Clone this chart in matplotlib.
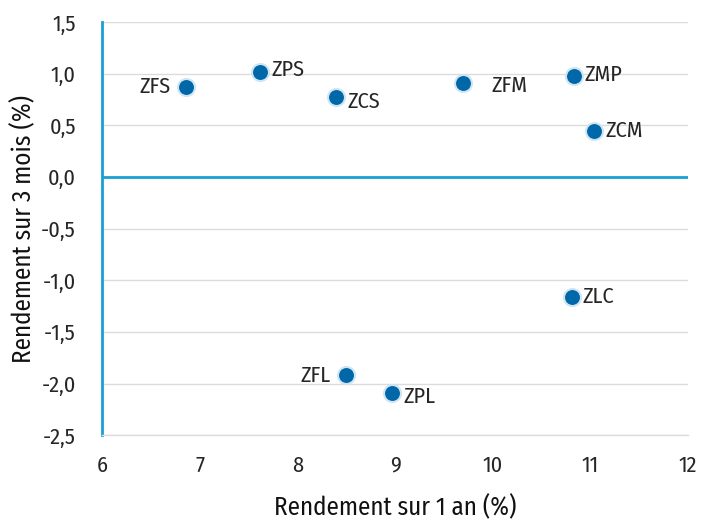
import matplotlib.pyplot as plt
from matplotlib.ticker import FuncFormatter, MultipleLocator

# Données
fonds = ["ZFS", "ZPS", "ZCS", "ZFM", "ZMP", "ZCM", "ZLC", "ZFL", "ZPL"]
rend_1an = [6.86, 7.62, 8.40, 9.70, 10.83, 11.04, 10.81, 8.50, 8.97]
rend_3mois = [0.87, 1.02, 0.77, 0.91, 0.98, 0.45, -1.16, -1.92, -2.09]

# Décalage des étiquettes (en points) et alignement
offsets = {
    "ZFS": (-11, 0, "right"),
    "ZPS": (8, 1, "left"),
    "ZCS": (8, -3, "left"),
    "ZFM": (20, -2, "left"),
    "ZMP": (8, 1, "left"),
    "ZCM": (8, 0, "left"),
    "ZLC": (8, 0, "left"),
    "ZFL": (-11, 0, "right"),
    "ZPL": (8, -3, "left"),
}

plt.rcParams['font.family'] = ['Fira Sans Condensed', 'DejaVu Sans']

fig, ax = plt.subplots(figsize=(7.01, 5.25), dpi=100)
fig.subplots_adjust(left=0.146, right=0.981, top=0.958, bottom=0.171)

cyan = '#1a9fd3'
texte = '#262626'

ax.set_xlim(6, 12)
ax.set_ylim(-2.5, 1.5)
ax.yaxis.set_major_locator(MultipleLocator(0.5))
ax.xaxis.set_major_locator(MultipleLocator(1))
ax.yaxis.set_major_formatter(FuncFormatter(lambda v, p: f"{v:.1f}".replace('.', ',')))
ax.xaxis.set_major_formatter(FuncFormatter(lambda v, p: f"{v:.0f}"))

ax.grid(axis='y', color='#dcdcdc', linewidth=1.0)
ax.set_axisbelow(True)
for s in ['top', 'right']:
    ax.spines[s].set_visible(False)
ax.spines['bottom'].set_color('#dcdcdc')
ax.spines['bottom'].set_linewidth(1.0)
ax.spines['left'].set_color(cyan)
ax.spines['left'].set_linewidth(2)
ax.axhline(0, color=cyan, linewidth=2, zorder=1)

ax.tick_params(length=0, labelsize=16, colors=texte)
ax.tick_params(axis='y', pad=19)
ax.tick_params(axis='x', pad=14)

ax.scatter(rend_1an, rend_3mois, s=150, color='#0068a8',
           edgecolors='#cfe5f3', linewidths=1.5, zorder=3)

for nom, x, y in zip(fonds, rend_1an, rend_3mois):
    dx, dy, ha = offsets[nom]
    ax.annotate(nom, (x, y), xytext=(dx, dy), textcoords='offset points',
                ha=ha, va='center', fontsize=16, color=texte)

ax.set_xlabel("Rendement sur 1 an (%)", fontsize=18, color='#111111')
ax.set_ylabel("Rendement sur 3 mois (%)", fontsize=18, color='#111111')
ax.xaxis.set_label_coords(0.5, -0.145)
ax.yaxis.set_label_coords(-0.112, 0.5)

plt.savefig("out.png", dpi=100)
